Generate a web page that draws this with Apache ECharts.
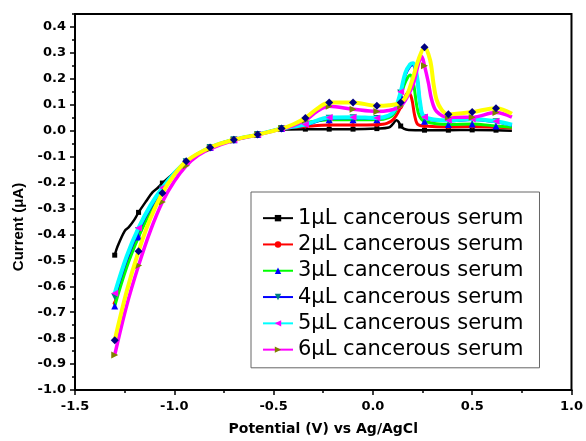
<!DOCTYPE html>
<html>
<head>
<meta charset="utf-8">
<script src="https://cdn.jsdelivr.net/npm/echarts@6/dist/echarts.min.js"></script>
<style>html,body{margin:0;padding:0;background:#fff;}#c{width:586px;height:441px;}</style>
</head>
<body>
<div id="c"></div>
<script>
// Potentials (V) where markers are drawn
const potentialMarks = [-1.30, -1.18, -1.06, -0.94, -0.82, -0.70, -0.58, -0.46, -0.34, -0.22, -0.10, 0.02, 0.14, 0.26, 0.38, 0.50, 0.62];

// Current (uA) at marker potentials, and extra curve points [potential, current]
const s1Marks = [-0.480, -0.315, -0.202, -0.120, -0.065, -0.035, -0.015, 0.005, 0.006, 0.006, 0.006, 0.008, 0.018, 0.002, 0.002, 0.003, 0.002];
const s1Extra = [[-1.285, -0.445], [-1.25, -0.387], [-1.229, -0.372], [-1.2, -0.342], [-1.142, -0.272], [-1.109, -0.237], [-1.084, -0.221], [-0.993, -0.157], [0.08, 0.012], [0.10, 0.025], [0.118, 0.040], [0.13, 0.033], [0.155, 0.008], [0.18, 0.003], [0.70, 0.000]];

const s2Marks = [-0.665, -0.405, -0.232, -0.120, -0.065, -0.035, -0.015, 0.008, 0.016, 0.022, 0.022, 0.023, 0.090, 0.018, 0.014, 0.016, 0.013];
const s2Extra = [[-1.24, -0.518], [-1.12, -0.308], [-1.0, -0.168], [0.07, 0.028], [0.105, 0.045], [0.163, 0.132], [0.178, 0.148], [0.195, 0.125], [0.21, 0.060], [0.225, 0.025], [0.70, 0.010]];

const s3Marks = [-0.676, -0.410, -0.235, -0.120, -0.065, -0.035, -0.015, 0.008, 0.030, 0.042, 0.042, 0.042, 0.135, 0.036, 0.024, 0.026, 0.018];
const s3Extra = [[-1.24, -0.528], [-1.12, -0.312], [-1.0, -0.170], [0.08, 0.050], [0.11, 0.070], [0.165, 0.190], [0.188, 0.215], [0.205, 0.180], [0.22, 0.100], [0.235, 0.055], [0.70, 0.013]];

const s4Marks = [-0.640, -0.385, -0.225, -0.120, -0.065, -0.035, -0.015, 0.008, 0.022, 0.048, 0.050, 0.047, 0.145, 0.050, 0.038, 0.043, 0.034];
const s4Extra = [[-1.24, -0.497], [-1.12, -0.296], [-1.0, -0.166], [0.08, 0.056], [0.11, 0.078], [0.163, 0.215], [0.188, 0.250], [0.200, 0.254], [0.222, 0.205], [0.238, 0.104], [0.70, 0.021]];

const s5Marks = [-0.627, -0.375, -0.220, -0.120, -0.065, -0.035, -0.015, 0.008, 0.024, 0.051, 0.052, 0.049, 0.150, 0.053, 0.040, 0.045, 0.036];
const s5Extra = [[-1.24, -0.485], [-1.12, -0.288], [-1.0, -0.164], [0.08, 0.058], [0.11, 0.080], [0.163, 0.222], [0.188, 0.256], [0.202, 0.260], [0.222, 0.210], [0.238, 0.107], [0.70, 0.023]];

const s6Marks = [-0.865, -0.520, -0.275, -0.135, -0.070, -0.037, -0.016, 0.007, 0.040, 0.094, 0.083, 0.074, 0.095, 0.250, 0.052, 0.052, 0.070];
const s6Extra = [[-1.24, -0.675], [-1.12, -0.385], [-1.0, -0.195], [-0.88, -0.095], [-0.40, 0.020], [-0.28, 0.075], [0.08, 0.078], [0.18, 0.140], [0.205, 0.183], [0.23, 0.260], [0.246, 0.286], [0.28, 0.183], [0.296, 0.119], [0.321, 0.074], [0.70, 0.052]];

const s7Marks = [-0.808, -0.465, -0.240, -0.118, -0.065, -0.035, -0.015, 0.008, 0.049, 0.109, 0.109, 0.096, 0.109, 0.322, 0.063, 0.072, 0.087];
const s7Extra = [[-1.24, -0.620], [-1.12, -0.338], [-1.0, -0.170], [-0.40, 0.025], [-0.28, 0.085], [0.08, 0.098], [0.17, 0.135], [0.20, 0.200], [0.23, 0.275], [0.288, 0.273], [0.305, 0.183], [0.321, 0.119], [0.346, 0.081], [0.70, 0.065]];

const seriesNames = ['1μL cancerous serum', '2μL cancerous serum', '3μL cancerous serum', '4μL cancerous serum', '5μL cancerous serum', '6μL cancerous serum', '7μL cancerous serum'];
const legendNames = seriesNames.slice(0, 6);

const yTicksMajor = [-1.0, -0.9, -0.8, -0.7, -0.6, -0.5, -0.4, -0.3, -0.2, -0.1, 0.0, 0.1, 0.2, 0.3, 0.4];
const yTicksMinor = [-0.95, -0.85, -0.75, -0.65, -0.55, -0.45, -0.35, -0.25, -0.15, -0.05, 0.05, 0.15, 0.25, 0.35, 0.45];

function build(marks, extra) {
  const pts = [];
  potentialMarks.forEach((x, i) => pts.push({ value: [x, marks[i]] }));
  extra.forEach(p => pts.push({ value: [p[0], p[1]], symbol: 'none' }));
  pts.sort((a, b) => a.value[0] - b.value[0]);
  return pts;
}

const styles = [
  { line: '#000000', mark: '#000000', symbol: 'rect', rot: 0, w: 2.5, size: 5 },
  { line: '#FF0000', mark: '#FF0000', symbol: 'circle', rot: 0, w: 3, size: 4 },
  { line: '#00FF00', mark: '#0000FF', symbol: 'triangle', rot: 0, w: 3, size: 7 },
  { line: '#0000FF', mark: '#008080', symbol: 'triangle', rot: 180, w: 3, size: 7 },
  { line: '#00FFFF', mark: '#FF00FF', symbol: 'triangle', rot: 90, w: 4, size: 7 },
  { line: '#FF00FF', mark: '#808000', symbol: 'triangle', rot: -90, w: 3.5, size: 7 },
  { line: '#FFFF00', mark: '#000080', symbol: 'diamond', rot: 0, w: 4, size: 8 }
];
const allMarks = [s1Marks, s2Marks, s3Marks, s4Marks, s5Marks, s6Marks, s7Marks];
const allExtra = [s1Extra, s2Extra, s3Extra, s4Extra, s5Extra, s6Extra, s7Extra];

const series = styles.map((s, i) => ({
  name: seriesNames[i],
  type: 'line',
  smooth: 0.35,
  data: build(allMarks[i], allExtra[i]),
  symbol: s.symbol,
  symbolRotate: s.rot,
  symbolSize: s.size,
  showSymbol: true,
  lineStyle: { color: s.line, width: s.w },
  itemStyle: { color: s.mark },
  emphasis: { disabled: true },
  z: 2 + i
}));

const chart = echarts.init(document.getElementById('c'), null, { renderer: 'canvas' });
const tickFont = { fontFamily: 'DejaVu Sans', fontWeight: 'bold', fontSize: 13, color: '#000' };
chart.setOption({
  animation: false,
  backgroundColor: '#fff',
  grid: { left: 75, right: 10, top: 14, bottom: 50, show: true, borderColor: '#000', borderWidth: 2, backgroundColor: 'transparent' },
  legend: {
    data: legendNames,
    orient: 'vertical',
    left: 251,
    top: 192,
    padding: [13, 16, 5, 11],
    itemWidth: 30,
    itemHeight: 8,
    itemGap: 0,
    borderColor: '#666',
    borderWidth: 1,
    backgroundColor: '#fff',
    textStyle: { fontFamily: 'DejaVu Sans', fontSize: 21, color: '#000', lineHeight: 26.3 },
    selectedMode: false
  },
  xAxis: {
    type: 'value', min: -1.5, max: 1.0, interval: 0.5,
    name: 'Potential (V) vs Ag/AgCl', nameLocation: 'middle', nameGap: 32,
    nameTextStyle: { fontFamily: 'DejaVu Sans', fontWeight: 'bold', fontSize: 14, color: '#000' },
    axisLine: { show: true, onZero: false, lineStyle: { color: '#000', width: 2 } },
    axisTick: { show: true, length: 5, lineStyle: { color: '#000', width: 1.5 } },
    minorTick: { show: true, splitNumber: 2, length: 3, lineStyle: { color: '#000', width: 1.5 } },
    axisLabel: Object.assign({ margin: 10, formatter: v => v.toFixed(1) }, tickFont),
    splitLine: { show: false }
  },
  yAxis: [{
    type: 'value', min: -1.0, max: 0.45,
    name: 'Current (μA)', nameLocation: 'middle', nameGap: 47, nameRotate: 90,
    nameTextStyle: { fontFamily: 'Liberation Sans, Arial, sans-serif', fontWeight: 'bold', fontSize: 15, color: '#000', padding: [0, 50, 0, 0] },
    axisLine: { show: true, onZero: false, lineStyle: { color: '#000', width: 2 } },
    axisTick: { show: true, length: 5, customValues: yTicksMajor, lineStyle: { color: '#000', width: 1.5 } },
    axisLabel: Object.assign({ margin: 9, customValues: yTicksMajor, formatter: v => v.toFixed(1) }, tickFont),
    splitLine: { show: false }
  }, {
    type: 'value', min: -1.0, max: 0.45, position: 'left',
    axisLine: { show: false, onZero: false },
    axisTick: { show: true, length: 3, customValues: yTicksMinor, lineStyle: { color: '#000', width: 1.5 } },
    axisLabel: { show: false },
    splitLine: { show: false }
  }],
  series: series
});
</script>
</body>
</html>
